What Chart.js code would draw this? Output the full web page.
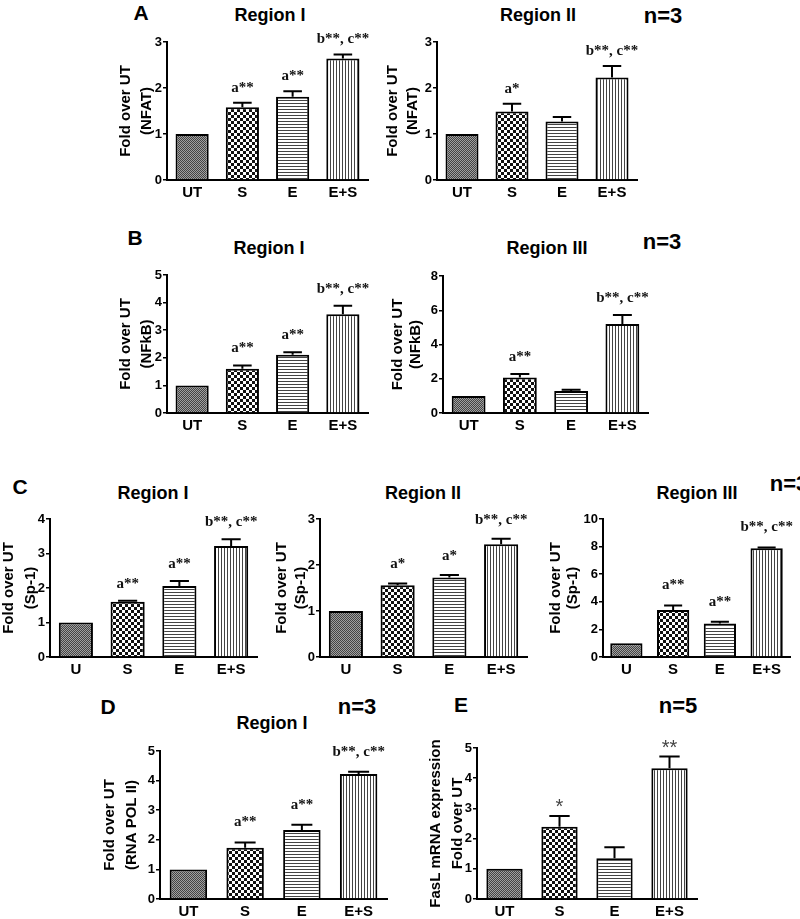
<!DOCTYPE html>
<html>
<head>
<meta charset="utf-8">
<title>Fold over UT</title>
<script src="https://cdn.jsdelivr.net/npm/chart.js@4.4.1/dist/chart.umd.min.js"></script>
<style>
  body { margin: 0; background: #fff; }
  #fig {
    position: relative; width: 800px; height: 919px; overflow: hidden; background: #fff;
    font-family: "Liberation Sans", Arial, sans-serif; font-weight: bold; color: #000;
  }
  #fig canvas { position: absolute; }
  .lbl { position: absolute; transform: translate(-50%, -50%); white-space: nowrap; line-height: 1; }
  .letter { font-size: 21px; }
  .region { font-size: 18px; }
  .n { font-size: 22px; }
</style>
</head>
<body>
<div id="fig">
  <div class="lbl letter" style="left:141px;top:12px">A</div>
  <div class="lbl region" style="left:270px;top:15px">Region I</div>
  <div class="lbl region" style="left:538px;top:15px">Region II</div>
  <div class="lbl n" style="left:663px;top:16px">n=3</div>

  <div class="lbl letter" style="left:135px;top:237px">B</div>
  <div class="lbl region" style="left:269px;top:248px">Region I</div>
  <div class="lbl region" style="left:547px;top:248px">Region III</div>
  <div class="lbl n" style="left:662px;top:242px">n=3</div>

  <div class="lbl letter" style="left:20px;top:486px">C</div>
  <div class="lbl region" style="left:153px;top:493px">Region I</div>
  <div class="lbl region" style="left:423px;top:493px">Region II</div>
  <div class="lbl region" style="left:697px;top:493px">Region III</div>
  <div class="lbl n" style="left:789px;top:484px">n=3</div>

  <div class="lbl letter" style="left:108px;top:706px">D</div>
  <div class="lbl region" style="left:272px;top:723px">Region I</div>
  <div class="lbl n" style="left:357px;top:707px">n=3</div>

  <div class="lbl letter" style="left:461px;top:704px">E</div>
  <div class="lbl n" style="left:678px;top:706px">n=5</div>
</div>
<script>
// categories
const catsUT = ['UT', 'S', 'E', 'E+S'];
const catsU = ['U', 'S', 'E', 'E+S'];

// A - NFAT
const nfatRegion1 = [1, 1.58, 1.81, 2.64];
const nfatRegion1Sem = [0, 0.10, 0.12, 0.09];
const nfatRegion2 = [1, 1.49, 1.27, 2.23];
const nfatRegion2Sem = [0, 0.17, 0.10, 0.25];

// B - NFkB
const nfkbRegion1 = [1, 1.60, 2.11, 3.58];
const nfkbRegion1Sem = [0, 0.12, 0.09, 0.31];
const nfkbRegion3 = [1, 2.07, 1.28, 5.19];
const nfkbRegion3Sem = [0, 0.21, 0.08, 0.53];

// C - Sp-1
const sp1Region1 = [1, 1.60, 2.06, 3.22];
const sp1Region1Sem = [0, 0.03, 0.14, 0.19];
const sp1Region2 = [1, 1.56, 1.73, 2.45];
const sp1Region2Sem = [0, 0.04, 0.05, 0.12];
const sp1Region3 = [1, 3.40, 2.43, 7.88];
const sp1Region3Sem = [0, 0.33, 0.12, 0.05];

// D - RNA POL II
const polRegion1 = [1, 1.73, 2.33, 4.22];
const polRegion1Sem = [0, 0.18, 0.18, 0.08];

// E - FasL mRNA
const fasl = [1, 2.39, 1.35, 4.33];
const faslSem = [0, 0.36, 0.36, 0.39];

// significance marks
const marksFull = ['', 'a**', 'a**', 'b**, c**'];
const marksA2 = ['', 'a*', '', 'b**, c**'];
const marksB2 = ['', 'a**', '', 'b**, c**'];
const marksC2 = ['', 'a*', 'a*', 'b**, c**'];
const marksE = ['', '*', '', '**'];

const SANS = '"Liberation Sans", Arial, sans-serif';
const SERIF = '"Liberation Serif", "Times New Roman", serif';

/**
 * Small repeating fill for a bar
 */
function makePattern(w, h, paint) {
    const c = document.createElement('canvas');
    c.width = w;
    c.height = h;
    const g = c.getContext('2d');
    paint(g);
    return document.createElement('canvas').getContext('2d').createPattern(c, 'repeat');
}

const fillUT = makePattern(2, 2, g => {
    g.fillStyle = '#a0a0a0'; g.fillRect(0, 0, 2, 2);
    g.fillStyle = '#444'; g.fillRect(0, 0, 1, 1); g.fillRect(1, 1, 1, 1);
});
const fillS = makePattern(6, 6, g => {
    g.fillStyle = '#fff'; g.fillRect(0, 0, 6, 6);
    g.fillStyle = '#111'; g.fillRect(0, 0, 3, 3); g.fillRect(3, 3, 3, 3);
});
const fillE = makePattern(4, 3, g => {
    g.fillStyle = '#fff'; g.fillRect(0, 0, 4, 3);
    g.fillStyle = '#444'; g.fillRect(0, 0, 4, 1);
});
const fillES = makePattern(3, 4, g => {
    g.fillStyle = '#fff'; g.fillRect(0, 0, 3, 4);
    g.fillStyle = '#444'; g.fillRect(0, 0, 1, 4);
});
const fills = [fillUT, fillS, fillE, fillES];

/**
 * Upper error bar plus the significance text above it
 */
function errorBarPlugin(sem, marks, markFont, markColor, markOffset) {
    return {
        id: 'errorBars',
        afterDatasetsDraw(chart) {
            const ctx = chart.ctx;
            const y = chart.scales.y;
            const vals = chart.data.datasets[0].data;
            const meta = chart.getDatasetMeta(0);
            ctx.save();
            meta.data.forEach((bar, i) => {
                const top = y.getPixelForValue(vals[i] + sem[i]);
                if (sem[i] > 0) {
                    const cap = bar.width * 0.28;
                    ctx.strokeStyle = '#000';
                    ctx.lineWidth = 2;
                    ctx.beginPath();
                    ctx.moveTo(bar.x, bar.y);
                    ctx.lineTo(bar.x, top);
                    ctx.moveTo(bar.x - cap, top);
                    ctx.lineTo(bar.x + cap, top);
                    ctx.stroke();
                }
                if (marks[i]) {
                    ctx.font = markFont;
                    ctx.fillStyle = markColor;
                    ctx.textAlign = 'center';
                    ctx.textBaseline = 'middle';
                    ctx.fillText(marks[i], bar.x, top - markOffset);
                }
            });
            ctx.restore();
        }
    };
}

/**
 * One bar panel; box gives axis positions and the two y-title line centres on the page
 */
function barPanel(box, labels, values, sem, marks, opt) {
    const gap = box.t2 - box.t1;
    const L = Math.round(box.t1 - gap / 2 - 2);
    const padTop = 14;
    const xH = 28;
    const top = box.axT - padTop;
    const canvas = document.createElement('canvas');
    canvas.width = box.axR - L + 6;
    canvas.height = box.axB - top + xH;
    canvas.style.left = L + 'px';
    canvas.style.top = top + 'px';
    document.getElementById('fig').appendChild(canvas);

    const yW = box.axL - L;
    const titlePad = box.t1 - L - gap / 2;

    return new Chart(canvas, {
        type: 'bar',
        data: {
            labels: labels,
            datasets: [{
                data: values,
                backgroundColor: fills,
                borderColor: '#000',
                borderWidth: 2,
                barPercentage: opt.barPct || 0.66,
                categoryPercentage: 1
            }]
        },
        options: {
            responsive: false,
            animation: false,
            layout: { padding: { top: padTop, right: 6, left: 0, bottom: 0 } },
            plugins: { legend: { display: false }, tooltip: { enabled: false } },
            scales: {
                x: {
                    grid: { display: false, drawTicks: false },
                    border: { display: true, color: '#000', width: 2 },
                    ticks: { color: '#000', padding: 4, font: { family: SANS, size: 15, weight: 'bold' } },
                    afterFit: s => { s.height = xH; }
                },
                y: {
                    min: 0,
                    max: opt.max,
                    ticks: { stepSize: opt.step, color: '#000', padding: 1, font: { family: SANS, size: 13, weight: 'bold' } },
                    grid: { display: true, drawOnChartArea: false, drawTicks: true, tickLength: 4, color: '#000', lineWidth: 1.5 },
                    border: { display: true, color: '#000', width: 2 },
                    title: {
                        display: true,
                        text: opt.yTitle,
                        color: '#000',
                        font: { family: SANS, size: 15, weight: 'bold', lineHeight: gap + 'px' },
                        padding: { top: titlePad, bottom: 0 }
                    },
                    afterFit: s => { s.width = yW; }
                }
            }
        },
        plugins: [errorBarPlugin(sem, marks,
            opt.markFont || ('bold 15px ' + SERIF),
            opt.markColor || '#111',
            opt.markOffset || 17)]
    });
}

// A
barPanel({ axL: 167, axT: 42, axB: 180, axR: 368, t1: 126, t2: 147 },
    catsUT, nfatRegion1, nfatRegion1Sem, marksFull,
    { max: 3, step: 1, yTitle: ['Fold over UT', '(NFAT)'], markOffset: 15 });
barPanel({ axL: 437, axT: 42, axB: 180, axR: 637, t1: 393, t2: 413 },
    catsUT, nfatRegion2, nfatRegion2Sem, marksA2,
    { max: 3, step: 1, yTitle: ['Fold over UT', '(NFAT)'], markOffset: 15 });

// B
barPanel({ axL: 167, axT: 275, axB: 413, axR: 368, t1: 126, t2: 147 },
    catsUT, nfkbRegion1, nfkbRegion1Sem, marksFull,
    { max: 5, step: 1, yTitle: ['Fold over UT', '(NFkB)'] });
barPanel({ axL: 443, axT: 276, axB: 413, axR: 648, t1: 398, t2: 416 },
    catsUT, nfkbRegion3, nfkbRegion3Sem, marksB2,
    { max: 8, step: 2, yTitle: ['Fold over UT', '(NFkB)'] });

// C
barPanel({ axL: 50, axT: 519, axB: 657, axR: 257, t1: 9, t2: 31 },
    catsU, sp1Region1, sp1Region1Sem, marksFull,
    { max: 4, step: 1, yTitle: ['Fold over UT', '(Sp-1)'] });
barPanel({ axL: 320, axT: 519, axB: 657, axR: 527, t1: 282, t2: 301 },
    catsU, sp1Region2, sp1Region2Sem, marksC2,
    { max: 3, step: 1, yTitle: ['Fold over UT', '(Sp-1)'], markOffset: 19 });
barPanel({ axL: 603, axT: 519, axB: 657, axR: 790, t1: 556, t2: 573 },
    catsU, sp1Region3, sp1Region3Sem, marksFull,
    { max: 10, step: 2, yTitle: ['Fold over UT', '(Sp-1)'], markOffset: 20, barPct: 0.69 });

// D
barPanel({ axL: 160, axT: 751, axB: 899, axR: 387, t1: 110, t2: 132 },
    catsUT, polRegion1, polRegion1Sem, marksFull,
    { max: 5, step: 1, yTitle: ['Fold over UT', '(RNA POL II)'], markOffset: 20 });

// E
barPanel({ axL: 477, axT: 748, axB: 899, axR: 697, t1: 436, t2: 458 },
    catsUT, fasl, faslSem, marksE,
    { max: 5, step: 1, yTitle: ['FasL mRNA expression', 'Fold over UT'],
      markFont: '20px ' + SANS, markColor: '#444', markOffset: 8 });
</script>
</body>
</html>
